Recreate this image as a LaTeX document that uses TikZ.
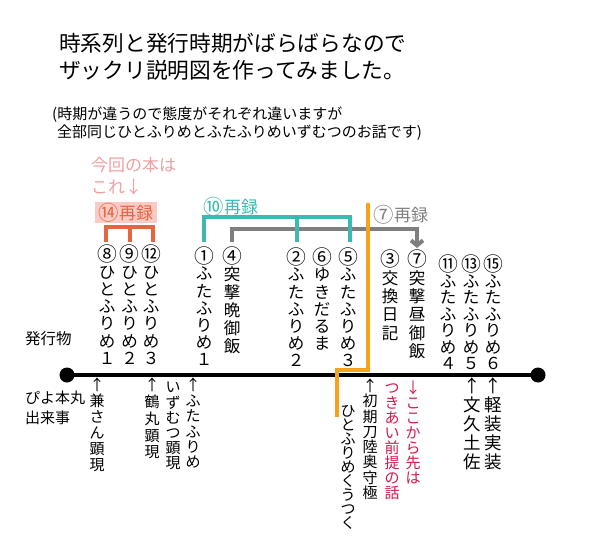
\documentclass[tikz,border=0pt]{standalone}
\usepackage{fontspec}
\setmainfont{Noto Sans CJK JP}
\usetikzlibrary{arrows.meta}
\definecolor{cTeal}{HTML}{3DB9B2}
\definecolor{cGray}{HTML}{7F7F7F}
\definecolor{cOrange}{HTML}{F7A21B}
\definecolor{cRust}{HTML}{E5653F}
\definecolor{cPinkBg}{HTML}{F9CBC4}
\definecolor{cPink}{HTML}{EFA0A0}
\definecolor{cRed}{HTML}{D5194A}

\newcommand\cn[1]{\raisebox{-0.07em}{\scalebox{1.2}{#1}}}

\ExplSyntaxOn
\NewDocumentCommand\vt{mm}{
  \vbox{
    \baselineskip=#1pt\relax
    \lineskiplimit=-100pt\relax
    \tl_map_inline:nn {#2} {\hbox_to_wd:nn {1.2em} {\hss\vrule ~ height ~ .88em ~ depth ~ .12em ~ width ~ 0pt\relax ##1\hss}}
  }
}
\ExplSyntaxOff

\tikzset{
  vcol/.style={anchor=north, inner sep=0pt, font=\fontsize{16.5}{16.5}\selectfont},
  bcol/.style={anchor=north, inner sep=0pt, font=\fontsize{15}{15}\selectfont},
  kcol/.style={anchor=north, inner sep=0pt, font=\fontsize{17.5}{17.5}\selectfont},
  htext/.style={anchor=west, inner sep=0pt},
  lbl/.style={inner sep=0pt, font=\fontsize{17}{17}\selectfont},
  bar/.style={line width=4pt, line join=miter},
  dot/.style={circle, fill=black, inner sep=0pt, minimum size=15pt},
}

\begin{document}
\begin{tikzpicture}[x=1pt, y=-1pt]
\useasboundingbox (0,0) rectangle (591,556);

% title and notes
\node[htext, font=\fontsize{21.7}{22}\selectfont] (t1) at (59,43) {時系列と発行時期がばらばらなので};
\node[htext, font=\fontsize{21.7}{22}\selectfont] (t2) at (59,70) {ザックリ説明図を作ってみました。};
\node[htext, font=\fontsize{15}{15}\selectfont] (s1) at (52,115) {(時期が違うので態度がそれぞれ違いますが};
\node[htext, font=\fontsize{15}{15}\selectfont] (s2) at (57,133) {全部同じひとふりめとふたふりめいずむつのお話です)};

\node[htext, font=\fontsize{17}{17}\selectfont, text=cPink] (p1) at (91,165) {今回の本は};
\node[htext, font=\fontsize{17}{17}\selectfont, text=cPink] (p2) at (91,187) {これ↓};

% group labels
\node[lbl, fill=cPinkBg, text=cRust, minimum width=62pt, minimum height=21pt] (l14) at (126,212.5) {\cn{⑭}再録};
\node[lbl, text=cTeal] (l10) at (231,207) {\cn{⑩}再録};
\node[lbl, text=cGray] (l7) at (401,215) {\cn{⑦}再録};

% publications (above the line)
\node[vcol] (c8)  at (107,245)   {\vt{17.3}{{\cn{⑧}}ひとふりめ１}};
\node[vcol] (c9)  at (129.5,245) {\vt{17.3}{{\cn{⑨}}ひとふりめ２}};
\node[vcol] (c12) at (151,245)   {\vt{17.3}{{\cn{⑫}}ひとふりめ３}};
\node[vcol] (c1)  at (204,247)   {\vt{17.2}{{\cn{①}}ふたふりめ１}};
\node[vcol] (c4)  at (232,247)   {\vt{18}{{\cn{④}}突撃晩御飯}};
\node[vcol] (c2)  at (296,248)   {\vt{17.2}{{\cn{②}}ふたふりめ２}};
\node[vcol] (c6)  at (322,248)   {\vt{17.2}{{\cn{⑥}}ゆきだるま}};
\node[vcol] (c5)  at (348,248)   {\vt{17.2}{{\cn{⑤}}ふたふりめ３}};
\node[vcol] (c3)  at (390,250)   {\vt{18.4}{{\cn{③}}交換日記}};
\node[vcol] (c7)  at (417,250)   {\vt{18.4}{{\cn{⑦}}突撃昼御飯}};
\node[vcol] (c11) at (448,255)   {\vt{16.5}{{\cn{⑪}}ふたふりめ４}};
\node[vcol] (c13) at (471,255)   {\vt{16.5}{{\cn{⑬}}ふたふりめ５}};
\node[vcol] (c15) at (493,255)   {\vt{16.5}{{\cn{⑮}}ふたふりめ６}};

% row labels
\node[htext, font=\fontsize{15.5}{16}\selectfont] (r1) at (25,339) {発行物};
\node[htext, font=\fontsize{15}{16}\selectfont] (r2) at (25,398) {ぴよ本丸};
\node[htext, font=\fontsize{15}{16}\selectfont] (r3) at (25,418) {出来事};

% events (below the line)
\node[bcol] (b1) at (97,377.5)  {\vt{16}{↑兼さん顕現}};
\node[bcol] (b2) at (152,377.5) {\vt{16.7}{↑鶴丸顕現}};
\node[bcol] (b3) at (173,379.5) {\vt{15.2}{いずむつ顕現}};
\node[bcol] (b4) at (193,377.5) {\vt{15.4}{↑ふたふりめ}};
\node[bcol] (b5) at (370,378)   {\vt{15.3}{↑初期刀陸奥守極}};
\node[bcol] (b6) at (348,403.5) {\vt{14}{ひとふりめくうつく}};
\node[bcol, text=cRed] (b7) at (392,380.5) {\vt{15}{つきあい前提の話}};
\node[bcol, text=cRed] (b8) at (413,380.5) {\vt{15}{↓ここから先は}};
\node[kcol] (b9)  at (472,376.5) {\vt{19}{↑文久土佐}};
\node[kcol] (b10) at (493,376.5) {\vt{19}{↑軽装実装}};

% bracket end points
\coordinate (k8) at (106,242);
\coordinate (k9) at (129.5,242);
\coordinate (k12) at (153,242);
\coordinate (k1) at (204,242);
\coordinate (k2) at (297,242);
\coordinate (k5) at (350,242);
\coordinate (k4) at (232,242);
\coordinate (k7) at (417,248);
\coordinate (o1) at (368,203);
\coordinate (o2) at (337,417);

% timeline
\node[dot] (d0) at (67,375) {};
\node[dot] (d1) at (538,375) {};
\draw[line width=4pt] (d0.center) -- (d1.center);

% brackets
\draw[bar, cRust] (k8) -- (106,227) -- (153,227) -- (k12);
\draw[bar, cRust] (129.5,227) -- (k9);
\draw[bar, cGray, -{Straight Barb[length=5pt, width=12pt]}] (k4) -- (232,229) -- (417,229) -- (k7);
\draw[bar, cTeal] (k1) -- (204,217) -- (350,217) -- (k5);
\draw[bar, cTeal] (297,217) -- (k2);

% divider
\draw[bar, cOrange] (o1) -- (368,370) -- (337,370) -- (o2);
\end{tikzpicture}
\end{document}
